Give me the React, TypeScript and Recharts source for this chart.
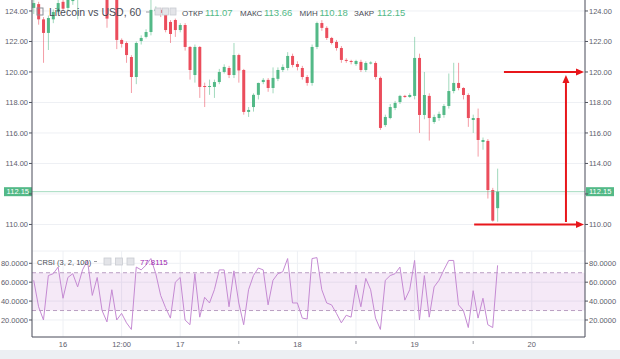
import React from "react"
import { ComposedChart, Bar, Line, XAxis, YAxis, CartesianGrid, ReferenceLine, ReferenceArea } from "recharts"

const FONT = "'Liberation Sans', Arial, sans-serif"
const UP = "#53b987"
const DOWN = "#eb4d5c"
const GRID = "#eef0f4"
const AXIS = "#50535e"
const TEXT = "#5d606b"
const ARROW = "#e8161b"

// hourly candles, 15th 18:00 .. 19th 17:00
const OPEN = [
  124.2, 124.45, 123.45, 122.56, 123.45, 123.95, 124.6, 124.2, 124.65, 125.0,
  125.3, 125.8, 125.5, 125.9, 125.6, 125.4, 124.9, 125.1, 122.1, 121.9,
  120.98, 119.67, 122.03, 122.3, 122.62, 124.0, 124.07, 123.9, 123.28, 123.41,
  122.75, 123.08, 121.64, 119.8, 121.64, 119.08, 119.05, 119.02, 119.34, 120.0,
  120.26, 119.8, 121.11, 120.13, 117.38, 117.7, 118.5, 119.34, 119.48, 118.95,
  119.55, 120.13, 120.26, 121.05, 120.52, 120.26, 119.67, 119.28, 121.64, 123.21,
  122.89, 122.23, 121.97, 121.57, 120.79, 120.72, 120.52, 120.66, 120.13, 120.59,
  120.59, 119.61, 116.52, 116.98, 117.64, 118.03, 118.43, 118.36, 118.43, 120.92,
  117.18, 118.43, 116.72, 116.98, 117.18, 117.77, 118.75, 119.28, 118.95, 118.49,
  116.85, 116.98, 115.41, 115.48, 112.26, 111.07,
]
const HIGH = [
  124.72, 124.6, 123.6, 123.7, 124.1, 124.72, 124.8, 124.95, 125.1, 125.5,
  126.0, 126.1, 126.2, 126.1, 125.8, 125.6, 125.4, 125.3, 122.2, 122.0,
  121.1, 122.0, 122.4, 122.8, 124.72, 124.3, 124.2, 124.0, 123.4, 123.5,
  123.2, 123.2, 121.7, 121.8, 121.7, 119.3, 119.5, 119.5, 120.2, 120.5,
  120.4, 121.9, 121.2, 120.2, 117.7, 118.6, 119.3, 119.6, 119.6, 120.3,
  120.3, 120.5, 121.3, 121.2, 120.7, 120.4, 119.8, 121.8, 123.3, 123.4,
  123.0, 122.3, 122.1, 121.7, 120.9, 120.8, 120.8, 120.8, 120.7, 120.7,
  120.7, 119.7, 117.2, 117.9, 118.1, 118.5, 118.5, 118.6, 122.3, 121.2,
  120.0, 118.6, 117.2, 117.4, 117.9, 119.9, 120.6, 120.6, 119.0, 118.6,
  117.2, 117.6, 115.7, 115.6, 112.4, 113.66,
]
const LOW = [
  123.8, 123.1, 120.6, 121.44, 123.2, 123.85, 124.0, 124.0, 124.4, 123.45,
  125.1, 125.3, 125.3, 125.4, 125.2, 122.9, 124.75, 121.5, 121.6, 120.6,
  118.62, 119.2, 121.8, 122.2, 122.4, 123.8, 123.6, 122.6, 121.9, 122.3,
  122.6, 121.4, 119.5, 119.3, 118.3, 117.7, 118.5, 118.3, 119.2, 119.9,
  119.6, 119.6, 119.3, 117.2, 117.05, 117.4, 118.2, 119.2, 118.7, 118.6,
  119.4, 120.0, 120.1, 120.3, 120.1, 119.5, 119.1, 119.1, 121.5, 122.7,
  122.1, 121.8, 121.4, 120.6, 120.6, 120.5, 120.4, 120.0, 120.0, 120.5,
  119.5, 116.2, 116.4, 116.9, 117.5, 117.9, 118.3, 118.3, 118.2, 116.0,
  116.9, 115.5, 116.6, 116.8, 117.0, 117.6, 118.6, 118.8, 118.2, 116.4,
  116.0, 114.45, 114.9, 111.7, 110.18, 110.18,
]
const CLOSE = [
  124.52, 123.45, 122.56, 123.54, 123.93, 124.52, 124.15, 124.8, 125.0, 125.3,
  125.8, 125.5, 125.9, 125.6, 125.4, 123.5, 125.2, 122.1, 121.84, 121.11,
  119.67, 121.9, 122.23, 122.62, 124.07, 124.1, 123.87, 122.75, 122.49, 122.75,
  123.08, 121.64, 120.13, 121.64, 119.02, 119.05, 119.08, 119.34, 120.0, 120.33,
  119.8, 121.11, 120.1, 117.38, 117.51, 118.5, 119.28, 119.48, 118.95, 119.61,
  120.13, 120.33, 121.05, 120.46, 120.33, 119.67, 119.28, 121.64, 123.21, 122.89,
  122.23, 121.9, 121.57, 120.79, 120.75, 120.66, 120.72, 120.13, 120.59, 120.62,
  119.67, 116.33, 117.05, 117.7, 117.97, 118.43, 118.36, 118.49, 120.92, 117.18,
  118.49, 116.98, 117.05, 117.25, 117.77, 118.75, 119.28, 118.95, 118.49, 116.98,
  116.98, 115.54, 115.54, 112.26, 110.25, 112.15,
]
const CRSI = [
  62, 34, 20, 67, 69, 76, 43, 65, 69, 55,
  73, 83, 46, 65, 30, 18, 52, 20, 27, 17,
  10, 76, 73, 78, 85, 69, 46, 33, 22, 60,
  65, 20, 15, 69, 23, 44, 38, 52, 73, 73,
  34, 72, 38, 15, 52, 67, 75, 73, 36, 62,
  69, 71, 85, 38, 38, 22, 21, 85, 86, 52,
  38, 36, 27, 17, 25, 23, 57, 34, 64, 52,
  22, 10, 62, 67, 69, 76, 41, 52, 83, 20,
  67, 23, 55, 62, 73, 83, 83, 36, 30, 12,
  51, 22, 43, 15, 12, 77.81,
]

const TIME_TICKS = [6, 18, 30, 42, 54, 66, 78, 90, 102]
const TIME_LABELS = ["16", "12:00", "17", "", "18", "", "19", "", "20"]
const PRICE_TICKS = [110, 112, 114, 116, 118, 120, 122, 124]
const CRSI_TICKS = [20, 40, 60, 80]
const LAST = { open: 111.07, high: 113.66, low: 110.18, close: 112.15, crsi: 77.8115 }

// annotation arrows (data coords)
const ARROW_TOP = [{ x: 96.3, y: 120 }, { x: 112.7, y: 120 }]
const ARROW_UP = [{ x: 109.0, y: 110.16 }, { x: 109.0, y: 119.8 }]
const ARROW_LOW = [{ x: 90.2, y: 110 }, { x: 112.7, y: 110 }]

const X_DOMAIN = [-0.35, 112.9]
const PRICE_DOMAIN = [108.26, 126.49]
const CRSI_DOMAIN = [2, 93]

const rows = OPEN.map((o, i) => ({
  i,
  o,
  h: HIGH[i],
  l: LOW[i],
  c: CLOSE[i],
  range: [LOW[i], HIGH[i]],
  crsi: CRSI[i],
}))

function Candle(props: any) {
  const { x, y, width, height, payload } = props
  const { o, h, l, c } = payload
  const top = Math.min(y, y + height)
  const span = Math.abs(height)
  const k = span / (h - l)
  const py = (v: number) => top + (h - v) * k
  const color = c >= o ? UP : DOWN
  const cx = x + width / 2
  const bTop = py(Math.max(o, c))
  const bH = Math.max(1, py(Math.min(o, c)) - bTop)
  return (
    <g>
      <line x1={cx} x2={cx} y1={top} y2={top + span} stroke={color} strokeOpacity={0.55} />
      <rect x={x} y={bTop} width={width} height={bH} fill={color} />
    </g>
  )
}

function PriceTag(props: any) {
  const { x1, y1, x2 } = props
  const label = LAST.close.toFixed(2)
  return (
    <g>
      <line x1={x1} x2={x2} y1={y1} y2={y1} stroke={UP} strokeOpacity={0.55} />
      <rect x={x1 - 28} y={y1 - 4.5} width={28} height={9} fill={UP} />
      <text x={x1 - 3} y={y1} dy="0.35em" textAnchor="end" fontSize={7.5} fontFamily={FONT} fill="#fff">{label}</text>
      <rect x={x2 + 1} y={y1 - 4.5} width={28} height={9} fill={UP} />
      <text x={x2 + 4} y={y1} dy="0.35em" textAnchor="start" fontSize={7.5} fontFamily={FONT} fill="#fff">{label}</text>
    </g>
  )
}

function Arrow(props: any) {
  const { x1, y1, x2, y2 } = props
  const a = Math.atan2(y2 - y1, x2 - x1)
  const L = 8
  const W = 3.5
  const bx = x2 - L * Math.cos(a)
  const by = y2 - L * Math.sin(a)
  const nx = -Math.sin(a) * W
  const ny = Math.cos(a) * W
  return (
    <g>
      <line x1={x1} y1={y1} x2={bx} y2={by} stroke={ARROW} strokeWidth={2} />
      <polygon points={`${x2},${y2} ${bx + nx},${by + ny} ${bx - nx},${by - ny}`} fill={ARROW} />
    </g>
  )
}

function TimeTick(props: any) {
  const { x, y, payload } = props
  const label = TIME_LABELS[TIME_TICKS.indexOf(payload.value)]
  if (!label) return <line x1={x} x2={x} y1={y + 4} y2={y + 7} stroke="#9a9ca3" />
  return (
    <text x={x} y={y + 10} textAnchor="middle" fontSize={7.5} fontFamily={FONT} fill={TEXT}>{label}</text>
  )
}

const tickStyle = { fontSize: 7.5, fill: TEXT, fontFamily: FONT }
const priceFmt = (v: number) => (v === 112 ? "" : v.toFixed(2))
const crsiFmt = (v: number) => v.toFixed(4)

function Box({ x, y, w = 6, h = 7 }: { x: number; y: number; w?: number; h?: number }) {
  return <rect x={x} y={y} width={w} height={h} fill="#e3e4e8" stroke="#c9cbd1" strokeWidth={0.8} />
}

export default function App() {
  return (
    <div style={{ position: "absolute", left: 0, top: 0, width: 620, height: 359, overflow: "hidden", background: "#fff" }}>
      <div style={{ position: "absolute", left: 0, top: -27 }}>
        <ComposedChart width={620} height={278} data={rows} margin={{ top: 0, right: 0, bottom: 0, left: 0 }}>
          <CartesianGrid yAxisId="p" stroke={GRID} />
          <XAxis
            type="number"
            dataKey="i"
            domain={X_DOMAIN}
            allowDataOverflow
            ticks={TIME_TICKS}
            interval={0}
            height={0}
            tick={false}
            tickLine={false}
            axisLine={{ stroke: AXIS }}
          />
          <YAxis
            yAxisId="p"
            orientation="left"
            width={32}
            domain={PRICE_DOMAIN}
            allowDataOverflow
            ticks={PRICE_TICKS}
            interval={0}
            tickSize={3}
            tickMargin={1}
            tick={tickStyle}
            tickFormatter={priceFmt}
            axisLine={{ stroke: AXIS }}
            tickLine={{ stroke: AXIS }}
          />
          <YAxis
            yAxisId="pr"
            orientation="right"
            width={35}
            domain={PRICE_DOMAIN}
            allowDataOverflow
            ticks={PRICE_TICKS}
            interval={0}
            tickSize={3}
            tickMargin={1}
            tick={tickStyle}
            tickFormatter={priceFmt}
            axisLine={{ stroke: AXIS }}
            tickLine={{ stroke: AXIS }}
          />
          <ReferenceLine yAxisId="p" y={LAST.close} shape={PriceTag} />
          <Bar yAxisId="p" dataKey="range" barSize={3} shape={Candle} isAnimationActive={false} />
          <ReferenceLine yAxisId="p" segment={ARROW_TOP} shape={Arrow} />
          <ReferenceLine yAxisId="p" segment={ARROW_UP} shape={Arrow} />
          <ReferenceLine yAxisId="p" segment={ARROW_LOW} shape={Arrow} />
        </ComposedChart>
      </div>

      <div style={{ position: "absolute", left: 0, top: 251 }}>
        <ComposedChart width={620} height={99} data={rows} margin={{ top: 0, right: 0, bottom: 0, left: 0 }}>
          <CartesianGrid yAxisId="r" stroke={GRID} />
          <XAxis
            type="number"
            dataKey="i"
            domain={X_DOMAIN}
            allowDataOverflow
            ticks={TIME_TICKS}
            interval={0}
            height={13}
            tickSize={0}
            tickMargin={0}
            tickLine={false}
            tick={<TimeTick />}
            axisLine={{ stroke: AXIS }}
          />
          <YAxis
            yAxisId="r"
            orientation="left"
            width={32}
            domain={CRSI_DOMAIN}
            allowDataOverflow
            ticks={CRSI_TICKS}
            interval={0}
            tickSize={3}
            tickMargin={1}
            tick={tickStyle}
            tickFormatter={crsiFmt}
            axisLine={{ stroke: AXIS }}
            tickLine={{ stroke: AXIS }}
          />
          <YAxis
            yAxisId="rr"
            orientation="right"
            width={35}
            domain={CRSI_DOMAIN}
            allowDataOverflow
            ticks={CRSI_TICKS}
            interval={0}
            tickSize={3}
            tickMargin={1}
            tick={tickStyle}
            tickFormatter={crsiFmt}
            axisLine={{ stroke: AXIS }}
            tickLine={{ stroke: AXIS }}
          />
          <ReferenceArea yAxisId="r" y1={30} y2={70} fill="#9c27b0" fillOpacity={0.1} stroke="none" />
          <ReferenceLine yAxisId="r" y={70} stroke="#b99ec2" strokeDasharray="4 3" />
          <ReferenceLine yAxisId="r" y={30} stroke="#b99ec2" strokeDasharray="4 3" />
          <Line yAxisId="r" dataKey="crsi" stroke="#c58ad3" strokeWidth={1} dot={false} isAnimationActive={false} />
        </ComposedChart>
      </div>

      <div style={{ position: "absolute", left: 0, top: 350, width: 620, height: 9, background: "#eceff3" }} />

      <svg width={620} height={359} style={{ position: "absolute", left: 0, top: 0, pointerEvents: "none" }} fontFamily={FONT}>
        <rect x={37} y={8} width={6} height={7} fill="none" stroke="#8a8d96" strokeWidth={1} />
        <text x={49} y={15.5} fontSize={10.5} fill="#4a4d57">Litecoin vs USD, 60</text>
        <line x1={146} x2={150} y1={12} y2={12} stroke="#9a9ca3" />
        <Box x={155} y={8} />
        <Box x={162.5} y={8} />
        <Box x={170} y={8} />
        <text x={182} y={15.5} fontSize={8} fill="#4a4d57">ОТКР</text>
        <text x={205} y={15.5} fontSize={9.5} fill={UP}>{LAST.open.toFixed(2)}</text>
        <text x={240} y={15.5} fontSize={8} fill="#4a4d57">МАКС</text>
        <text x={264} y={15.5} fontSize={9.5} fill={UP}>{LAST.high.toFixed(2)}</text>
        <text x={299.5} y={15.5} fontSize={8} fill="#4a4d57">МИН</text>
        <text x={319.5} y={15.5} fontSize={9.5} fill={UP}>{LAST.low.toFixed(2)}</text>
        <text x={354} y={15.5} fontSize={8} fill="#4a4d57">ЗАКР</text>
        <text x={377} y={15.5} fontSize={9.5} fill={UP}>{LAST.close.toFixed(2)}</text>

        <text x={37} y={264.5} fontSize={7.5} fill="#4a4d57">CRSI (3, 2, 100)</text>
        <line x1={94} x2={97} y1={261.5} y2={261.5} stroke="#9a9ca3" />
        <Box x={104} y={258} w={7} h={7} />
        <Box x={115.5} y={258} w={7} h={7} />
        <Box x={127} y={258} w={7} h={7} />
        <text x={140} y={264.5} fontSize={7.8} fill="#9c27b0">{LAST.crsi.toFixed(4)}</text>
      </svg>
    </div>
  )
}
